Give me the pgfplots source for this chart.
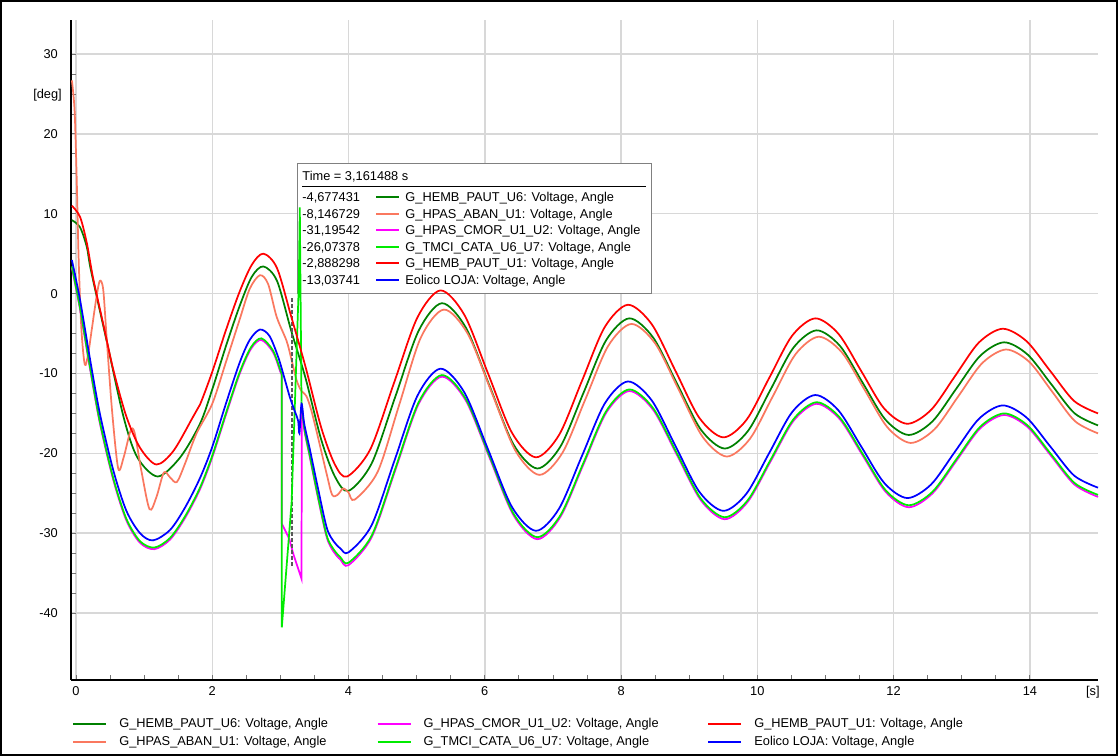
\documentclass[border=0pt]{standalone}
\usepackage{fontspec}
\setmainfont{Liberation Sans}
\usepackage{pgfplots}
\pgfplotsset{compat=1.18}
\definecolor{hembsix}{RGB}{0,128,0}
\definecolor{aban}{RGB}{250,120,95}
\definecolor{cmor}{RGB}{255,0,255}
\definecolor{tmci}{RGB}{0,235,0}
\definecolor{hembone}{RGB}{255,0,0}
\definecolor{eolico}{RGB}{0,0,255}
\definecolor{gridc}{RGB}{216,216,216}
\newcommand{\lbl}{\fontsize{9.6pt}{11pt}\selectfont}

\begin{document}
\lbl
\begin{tikzpicture}
\useasboundingbox (0,0) rectangle (838.5pt,567pt);
\draw[black, line width=1.5pt] (0.75pt,0.75pt) rectangle (837.75pt,566.25pt);
\begin{axis}[
  at={(53.25pt,57pt)}, anchor=south west,
  scale only axis, width=770.25pt, height=495pt,
  xmin=-0.073, xmax=15.0, ymin=-48.38, ymax=34.26,
  axis x line*=bottom, axis y line*=left,
  axis line style={black, line width=1.2pt},
  xtick={0,2,...,14}, ytick={-40,-30,...,30},
  minor x tick num=3, minor y tick num=3,
  tick align=inside, major tick length=4pt, minor tick length=4pt,
  every tick/.style={black!55, line width=0.6pt},
  grid=major, major grid style={gridc, line width=1.1pt},
  tick label style={font=\lbl, /pgf/number format/assume math mode=true},
  yticklabel style={xshift=-6.5pt},
  xticklabel style={yshift=-1.5pt},
  clip=false,
  legend columns=2, transpose legend,
  legend image code/.code={\draw[#1, line width=1.5pt] (0pt,0pt) -- (24.75pt,0pt);},
  legend style={at={(0.001,-0.053)}, anchor=north west, draw=none, fill=none,
    font=\lbl, inner sep=0pt, row sep=1.5pt, cells={anchor=west},
    /tikz/every odd column/.append style={column sep=7pt},
    /tikz/every even column/.append style={column sep=34.5pt}},
]
\node[anchor=east, inner sep=0pt, font=\lbl] at (axis cs:-0.073,24.9) [xshift=-6.75pt] {[deg]};
\node[anchor=north, font=\lbl] at (axis cs:14.925,-48.38) [yshift=-1.5pt] {[s]};

% G_HEMB_PAUT_U6
\addplot[hembsix, line width=1.3pt, smooth] coordinates {
(-0.06,9.2) (0.06,8.3) (0.16,5.8) (0.22,2.9) (0.46,-6.3) (0.70,-15.5) (0.90,-20.5)
(1.2,-22.9) (1.53,-20.5) (1.82,-16.3) (2.0,-12.0) (2.2,-6.6) (2.4,-1.6) (2.58,2.1)
(2.75,3.4) (2.95,1.6) (3.16,-4.68) (3.37,-10.6) (3.6,-18.3) (3.8,-22.9) (4.0,-24.7)
(4.34,-21.26) (4.685,-12.95) (5.03,-4.64) (5.37,-1.2) (5.72,-4.23) (6.07,-11.55)
(6.42,-18.87) (6.77,-21.9) (7.11,-19.15) (7.445,-12.5) (7.78,-5.85) (8.12,-3.1)
(8.47,-5.49) (8.82,-11.25) (9.17,-17.01) (9.52,-19.4) (9.86,-17.23) (10.195,-12)
(10.53,-6.77) (10.87,-4.6) (11.21,-6.52) (11.545,-11.15) (11.88,-15.78) (12.22,-17.7)
(12.57,-16.0) (12.92,-11.9) (13.27,-7.8) (13.62,-6.1) (13.965,-7.62) (14.31,-11.3)
(14.655,-14.98) (15.0,-16.5)};
\addlegendentry{G\_HEMB\_PAUT\_U6: Voltage, Angle}

% G_HPAS_ABAN_U1
\addplot[aban, line width=1.3pt, smooth] coordinates {
(-0.06,26.7) (-0.02,22.9) (0.01,14.6) (0.04,4.1) (0.08,-4.5) (0.13,-8.9) (0.18,-7.5)
(0.23,-4.6) (0.3,-0.5) (0.35,1.6) (0.40,0.5) (0.45,-5.5) (0.53,-14.7) (0.62,-21.9)
(0.70,-20.5) (0.80,-17.2) (0.86,-17.4) (0.96,-22.2) (1.08,-27.0) (1.18,-25.5)
(1.29,-22.4) (1.38,-23.0) (1.48,-23.6) (1.6,-21.3) (1.77,-17.5) (2.0,-13.8) (2.2,-8.6)
(2.4,-3.3) (2.55,0.6) (2.7,2.3) (2.82,1.2) (2.945,-2.9) (3.09,-5.9) (3.16,-8.15)
(3.24,-10.9) (3.31,-12.2) (3.38,-12.8) (3.45,-14.5) (3.53,-17.2) (3.68,-22.6)
(3.76,-25.2) (3.84,-25.2) (3.92,-24.4) (4.0,-24.9) (4.09,-25.8) (4.4275,-22.32)
(4.745,-13.9) (5.0625,-5.48) (5.4,-2.0) (5.75,-5.03) (6.1,-12.35) (6.45,-19.67)
(6.8,-22.7) (7.14,-19.93) (7.475,-13.25) (7.81,-6.57) (8.15,-3.8) (8.5,-6.23)
(8.85,-12.1) (9.2,-17.97) (9.55,-20.4) (9.89,-18.2) (10.225,-12.9) (10.56,-7.6)
(10.9,-5.4) (11.24,-7.35) (11.575,-12.05) (11.91,-16.75) (12.25,-18.7) (12.6,-16.99)
(12.95,-12.85) (13.3,-8.71) (13.65,-7.0) (13.99,-8.54) (14.325,-12.25) (14.66,-15.96)
(15.0,-17.5)};
\addlegendentry{G\_HPAS\_ABAN\_U1: Voltage, Angle}

% G_HPAS_CMOR_U1_U2
\addplot[cmor, line width=1.3pt, smooth] coordinates {
(-0.06,3.2) (0.06,-2.0) (0.2,-9.1) (0.35,-16.2) (0.55,-23.4) (0.74,-28.4) (0.94,-31.2)
(1.15,-32.0) (1.38,-30.8) (1.6,-28.1) (1.82,-24.5) (2.0,-20.5) (2.2,-15.2) (2.4,-10.1)
(2.57,-6.9) (2.72,-5.8) (2.89,-7.3) (3.0,-9.8) (3.02,-10.2)};
\addlegendentry{G\_HPAS\_CMOR\_U1\_U2: Voltage, Angle}
\addplot[cmor, line width=1.3pt, forget plot] coordinates {
(3.02,-10.2) (3.021,-28.8) (3.13,-30.7) (3.19,-32.6) (3.31,-35.7) (3.315,-13.8)};
\addplot[cmor, line width=1.3pt, smooth, forget plot] coordinates {
(3.315,-13.8) (3.35,-17.0) (3.43,-20.4) (3.55,-25.5) (3.68,-30.5) (3.78,-32.3)
(3.88,-33.3) (4.0,-34.0) (4.3425,-30.46) (4.685,-22.15) (5.0275,-13.84) (5.37,-10.4)
(5.72,-13.37) (6.07,-20.55) (6.42,-27.73) (6.77,-30.75) (7.1075,-27.99) (7.445,-21.45)
(7.7825,-14.91) (8.12,-12.2) (8.47,-14.54) (8.82,-20.2) (9.17,-25.86) (9.52,-28.25)
(9.8575,-26.09) (10.195,-21.0) (10.5325,-15.91) (10.87,-13.8) (11.2075,-15.69)
(11.545,-20.25) (11.8825,-24.81) (12.22,-26.75) (12.57,-25.02) (12.92,-20.95)
(13.27,-16.88) (13.62,-15.2) (13.965,-16.69) (14.31,-20.3) (14.655,-23.91) (15.0,-25.45)};

% cursor and value box
\draw[black!65, line width=1.5pt, dash pattern=on 3pt off 1.5pt] (axis cs:3.175,-0.6) -- (axis cs:3.175,-34.2);
\node[draw=black!50, fill=white, line width=0.75pt, anchor=north west, inner xsep=3.75pt, inner ysep=3.5pt]
  at (axis cs:3.243,16.35) {\fontsize{9.6pt}{12.4pt}\selectfont
\begin{tabular}{@{}p{55.5pt}@{}p{17.25pt}@{\hspace{4.5pt}}p{180.75pt}@{}}
\multicolumn{3}{@{}l@{}}{\rule[-3pt]{0pt}{12pt}Time = 3,161488 s}\\[1pt]
\hline
\rule{0pt}{11pt}-4,677431 & \textcolor{hembsix}{\rule[2.7pt]{17.25pt}{1.5pt}} & G\_HEMB\_PAUT\_U6: Voltage, Angle\\
-8,146729 & \textcolor{aban}{\rule[2.7pt]{17.25pt}{1.5pt}} & G\_HPAS\_ABAN\_U1: Voltage, Angle\\
-31,19542 & \textcolor{cmor}{\rule[2.7pt]{17.25pt}{1.5pt}} & G\_HPAS\_CMOR\_U1\_U2: Voltage, Angle\\
-26,07378 & \textcolor{tmci}{\rule[2.7pt]{17.25pt}{1.5pt}} & G\_TMCI\_CATA\_U6\_U7: Voltage, Angle\\
-2,888298 & \textcolor{hembone}{\rule[2.7pt]{17.25pt}{1.5pt}} & G\_HEMB\_PAUT\_U1: Voltage, Angle\\
-13,03741 & \textcolor{eolico}{\rule[2.7pt]{17.25pt}{1.5pt}} & Eolico LOJA: Voltage, Angle
\end{tabular}};

% G_TMCI_CATA_U6_U7
\addplot[tmci, line width=1.3pt, smooth] coordinates {
(-0.06,3.4) (0.06,-1.8) (0.2,-8.9) (0.35,-16.0) (0.55,-23.2) (0.74,-28.2) (0.94,-31.0)
(1.15,-31.8) (1.38,-30.6) (1.6,-27.9) (1.82,-24.3) (2.0,-20.3) (2.2,-15.0) (2.4,-9.9)
(2.57,-6.7) (2.72,-5.6) (2.89,-7.1) (3.0,-9.6) (3.02,-10.0)};
\addlegendentry{G\_TMCI\_CATA\_U6\_U7: Voltage, Angle}
\addplot[tmci, line width=1.3pt, forget plot] coordinates {
(3.02,-10.0) (3.021,-41.8) (3.165,-26.1) (3.22,-12.0) (3.27,1.0) (3.285,10.8) (3.31,-13.5)};
\addplot[tmci, line width=1.3pt, smooth, forget plot] coordinates {
(3.31,-13.5) (3.35,-16.8) (3.43,-20.2) (3.55,-25.3) (3.68,-30.3) (3.78,-32.0)
(3.88,-33.0) (4.0,-33.7) (4.3425,-30.26) (4.685,-21.95) (5.0275,-13.64) (5.37,-10.2)
(5.72,-13.17) (6.07,-20.35) (6.42,-27.53) (6.77,-30.5) (7.1075,-27.79) (7.445,-21.25)
(7.7825,-14.71) (8.12,-12.0) (8.47,-14.34) (8.82,-20.0) (9.17,-25.66) (9.52,-28.0)
(9.8575,-25.89) (10.195,-20.8) (10.5325,-15.71) (10.87,-13.6) (11.2075,-15.49)
(11.545,-20.05) (11.8825,-24.61) (12.22,-26.5) (12.57,-24.82) (12.92,-20.75)
(13.27,-16.68) (13.62,-15.0) (13.965,-16.49) (14.31,-20.1) (14.655,-23.71) (15.0,-25.2)};

% G_HEMB_PAUT_U1
\addplot[hembone, line width=1.3pt, smooth] coordinates {
(-0.06,11.0) (0.06,9.6) (0.16,6.3) (0.25,2.0) (0.4,-3.8) (0.55,-9.6) (0.74,-15.4)
(0.94,-19.3) (1.18,-21.4) (1.43,-19.7) (1.72,-15.4) (1.82,-13.9) (2.0,-9.8) (2.2,-4.6)
(2.4,0.2) (2.58,3.6) (2.75,5.0) (2.95,3.2) (3.16,-2.9) (3.37,-9.2) (3.6,-16.8)
(3.8,-21.4) (3.98,-22.9) (4.32,-19.49) (4.665,-11.25) (5.01,-3.01) (5.35,0.4)
(5.7,-2.66) (6.05,-10.05) (6.4,-17.44) (6.75,-20.5) (7.09,-17.7) (7.425,-10.95)
(7.76,-4.2) (8.1,-1.4) (8.45,-3.83) (8.8,-9.7) (9.15,-15.57) (9.5,-18.0) (9.84,-15.82)
(10.175,-10.55) (10.51,-5.28) (10.85,-3.1) (11.19,-5.03) (11.525,-9.7) (11.86,-14.37)
(12.2,-16.3) (12.55,-14.56) (12.9,-10.35) (13.25,-6.14) (13.6,-4.4) (13.95,-5.95)
(14.3,-9.7) (14.65,-13.45) (15.0,-15.0)};
\addlegendentry{G\_HEMB\_PAUT\_U1: Voltage, Angle}

% Eolico LOJA
\addplot[eolico, line width=1.3pt, smooth] coordinates {
(-0.06,4.2) (0.06,-0.8) (0.2,-7.9) (0.35,-15.0) (0.55,-22.2) (0.74,-27.2) (0.94,-30.0)
(1.13,-30.9) (1.38,-29.6) (1.6,-26.8) (1.82,-23.1) (2.0,-19.2) (2.2,-13.8) (2.4,-8.7)
(2.55,-5.8) (2.7,-4.5) (2.84,-5.3) (2.97,-8.0) (3.07,-10.9) (3.14,-13.0) (3.21,-14.7)
(3.26,-15.9) (3.28,-17.5) (3.31,-13.8) (3.35,-16.3) (3.43,-19.4) (3.55,-24.3)
(3.68,-29.3) (3.78,-31.0) (3.88,-31.9) (4.0,-32.4) (4.3375,-29.03) (4.675,-20.9)
(5.0125,-12.77) (5.35,-9.4) (5.7,-12.37) (6.05,-19.55) (6.4,-26.73) (6.75,-29.7)
(7.0875,-26.96) (7.425,-20.35) (7.7625,-13.74) (8.1,-11.0) (8.45,-13.37) (8.8,-19.1)
(9.15,-24.83) (9.5,-27.2) (9.8375,-25.08) (10.175,-19.95) (10.5125,-14.82) (10.85,-12.7)
(11.1875,-14.59) (11.525,-19.15) (11.8625,-23.71) (12.2,-25.6) (12.55,-23.9) (12.9,-19.8)
(13.25,-15.7) (13.6,-14.0) (13.95,-15.51) (14.3,-19.15) (14.65,-22.79) (15.0,-24.3)};
\addlegendentry{Eolico LOJA: Voltage, Angle}
\end{axis}
\end{tikzpicture}
\end{document}
